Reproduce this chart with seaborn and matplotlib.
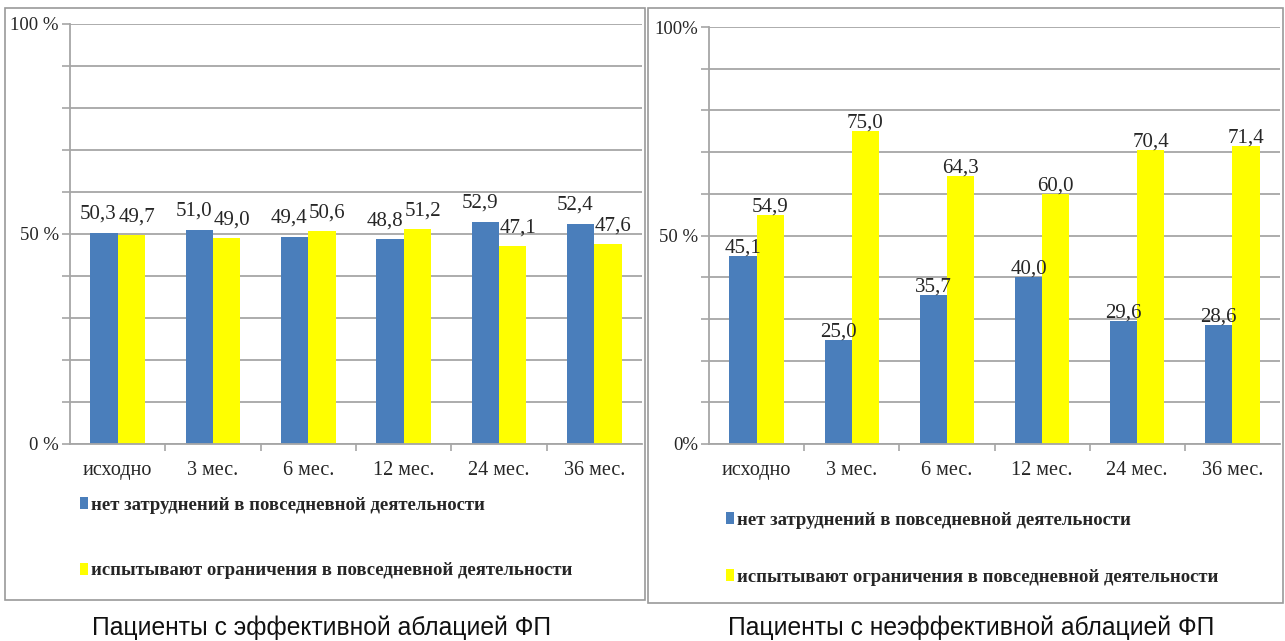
import matplotlib
matplotlib.use("Agg")
import matplotlib.pyplot as plt
from matplotlib.patches import Rectangle
import pandas as pd
import seaborn as sns

# Data
periods = ["исходно", "3 мес.", "6 мес.", "12 мес.", "24 мес.", "36 мес."]
series_names = ["нет затруднений в повседневной деятельности",
                "испытывают ограничения в повседневной деятельности"]
effective_no_difficulty = [50.3, 51.0, 49.4, 48.8, 52.9, 52.4]
effective_limited = [49.7, 49.0, 50.6, 51.2, 47.1, 47.6]
ineffective_no_difficulty = [45.1, 25.0, 35.7, 40.0, 29.6, 28.6]
ineffective_limited = [54.9, 75.0, 64.3, 60.0, 70.4, 71.4]
panel_titles = ["Пациенты с эффективной аблацией ФП",
                "Пациенты с неэффективной аблацией ФП"]
ytick_labels_left = {0: "0 %", 50: "50 %", 100: "100 %"}
ytick_labels_right = {0: "0%", 50: "50 %", 100: "100%"}

BLUE = "#4A7EBB"
YELLOW = "#FFFF00"
GRID = "#A6A6A6"
TEXT = "#262626"

sns.set_theme(style="white")
plt.rcParams["font.family"] = ["Liberation Serif", "DejaVu Serif"]

W, H = 1285, 641
fig = plt.figure(figsize=(W / 100, H / 100), dpi=100)


def px_box(x0, y0, x1, y1):
    """Pixel box (top-left origin) -> figure rect."""
    return [x0 / W, 1 - y1 / H, (x1 - x0) / W, (y1 - y0) / H]


def make_frame(x0, y0, x1, y1):
    r = px_box(x0, y0, x1, y1)
    fig.patches.append(Rectangle((r[0], r[1]), r[2], r[3], transform=fig.transFigure,
                                 fill=False, edgecolor="#9A9A9A", linewidth=1.2))


def draw_panel(rect, no_diff, limited, tick_map, label_dx, label_dy,
               legend_anchor, legend_gap):
    ax = fig.add_axes(rect)
    df = pd.DataFrame({
        "period": periods * 2,
        "value": no_diff + limited,
        "group": [series_names[0]] * len(periods) + [series_names[1]] * len(periods),
    })
    sns.barplot(data=df, x="period", y="value", hue="group", order=periods,
                hue_order=series_names, palette=[BLUE, YELLOW], width=0.57,
                gap=0, saturation=1, ax=ax, errorbar=None, legend=True,
                linewidth=0, edgecolor="none")

    ax.set_ylim(0, 100)
    ax.set_xlim(-0.5, len(periods) - 0.5)
    ax.set_xlabel("")
    ax.set_ylabel("")
    ticks = list(range(0, 101, 10))
    ax.set_yticks(ticks)
    ax.set_yticklabels([tick_map.get(t, "") for t in ticks], fontsize=13.5, color=TEXT)
    ax.yaxis.grid(True, color=GRID, linewidth=1.3)
    ax.set_axisbelow(True)
    ax.tick_params(axis="y", length=6, width=1.2, color=GRID, pad=2, left=True)
    ax.tick_params(axis="x", which="major", length=0, pad=12, labelsize=14.5,
                   labelcolor=TEXT)
    ax.set_xticks([i + 0.5 for i in range(len(periods) - 1)], minor=True)
    ax.tick_params(axis="x", which="minor", length=5, width=1.2, color=GRID, bottom=True)
    for s in ("top", "right"):
        ax.spines[s].set_visible(False)
    for s in ("left", "bottom"):
        ax.spines[s].set_color(GRID)
        ax.spines[s].set_linewidth(1.3)

    for cont, vals, dx in zip(ax.containers, (no_diff, limited), label_dx):
        for bar, v in zip(cont, vals):
            ax.annotate(f"{v:.1f}".replace(".", ","),
                        (bar.get_x() + bar.get_width() / 2, bar.get_height()),
                        xytext=(dx, label_dy), textcoords="offset points",
                        ha="center", va="baseline", fontsize=15, color=TEXT)

    handles, labels = ax.get_legend_handles_labels()
    ax.get_legend().remove()
    ax.legend(handles, labels, loc="upper left", bbox_to_anchor=legend_anchor,
              bbox_transform=fig.transFigure, frameon=False,
              prop={"size": 13.5, "weight": "bold"}, labelcolor=TEXT,
              handlelength=0.45, handleheight=0.6, handletextpad=0.15,
              labelspacing=legend_gap, borderaxespad=0, borderpad=0)
    return ax


make_frame(5, 8, 645, 600)
make_frame(648, 8, 1283, 603)

draw_panel(px_box(70, 24, 642, 444), effective_no_difficulty, effective_limited,
           ytick_labels_left, (-4, 4), 10, (80 / W, 1 - 497 / H), 2.57)
draw_panel(px_box(709, 27, 1280, 444), ineffective_no_difficulty, ineffective_limited,
           ytick_labels_right, (0, 0), 2.5, (726 / W, 1 - 512 / H), 2.13)

fig.text(322 / W, 1 - 628 / H, panel_titles[0], ha="center", va="center",
         fontsize=17.7, family=["Liberation Sans", "DejaVu Sans"], color="#111111")
fig.text(971 / W, 1 - 628 / H, panel_titles[1], ha="center", va="center",
         fontsize=17.7, family=["Liberation Sans", "DejaVu Sans"], color="#111111")

fig.savefig("out.png", dpi=100, facecolor="white")
